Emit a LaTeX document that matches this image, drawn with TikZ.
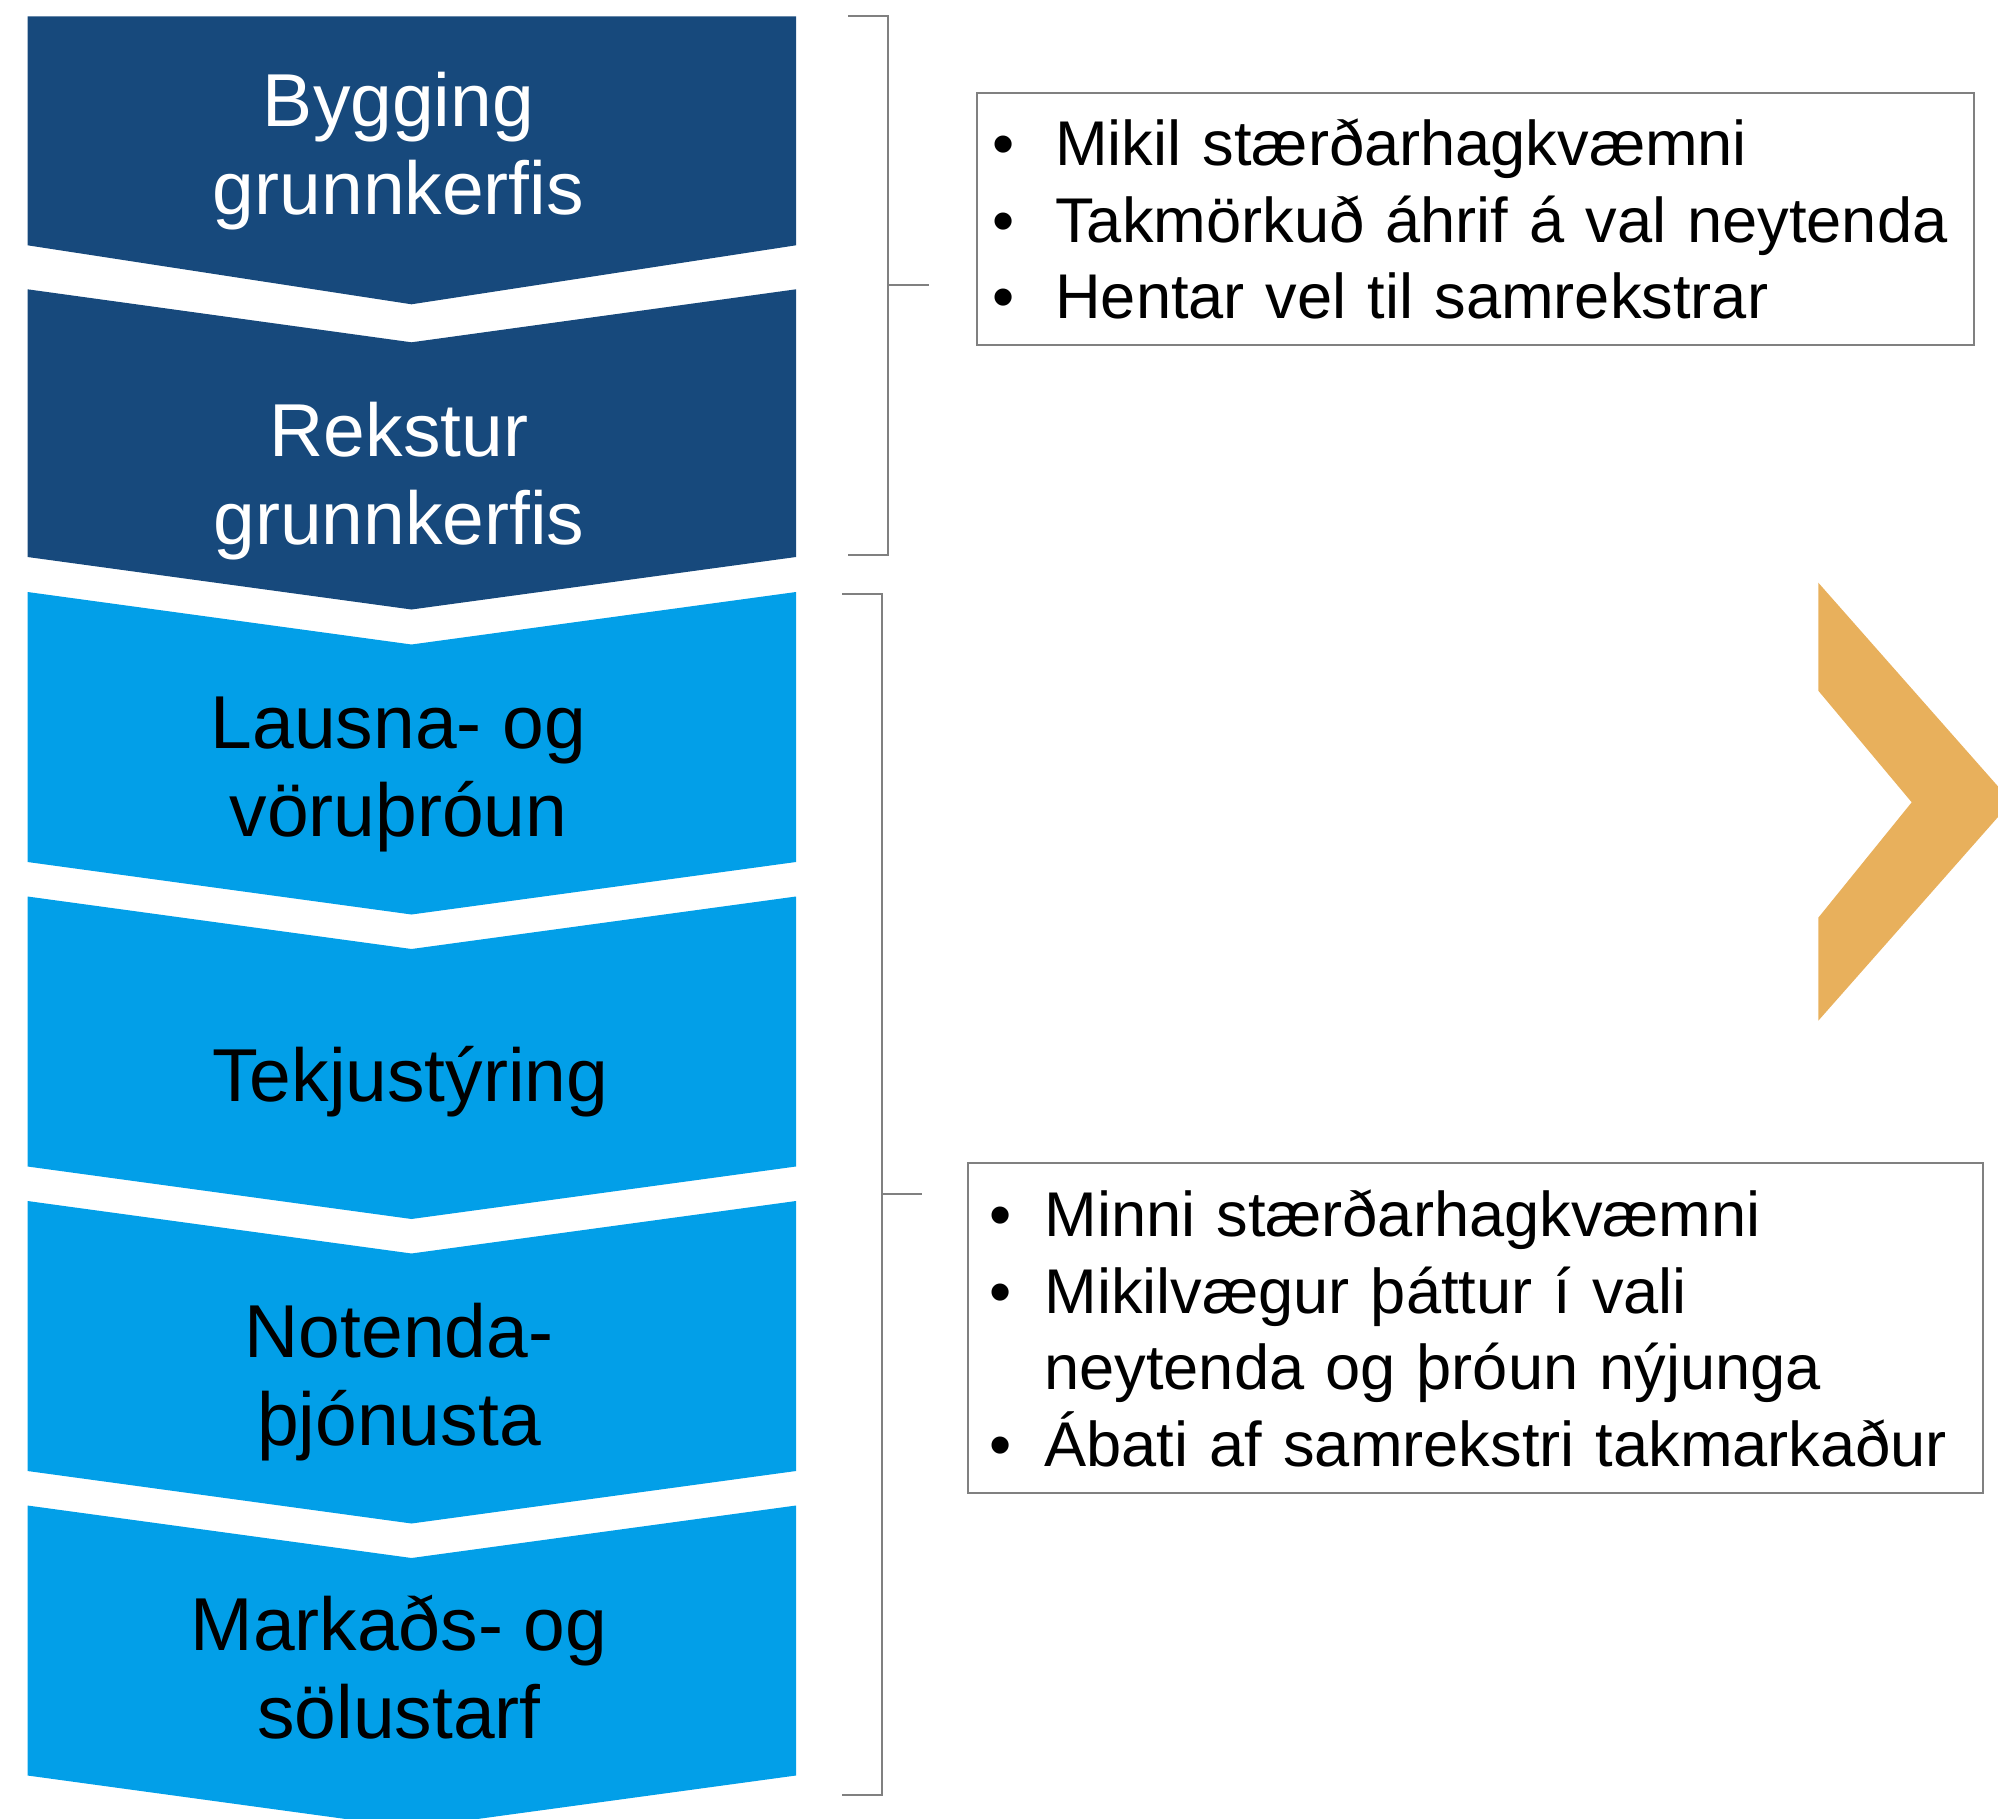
\documentclass[tikz,border=0pt]{standalone}
\usepackage{fontspec}
\setmainfont{Liberation Sans}
\usepackage{tikz}
\definecolor{darkblue}{RGB}{23,73,124}
\definecolor{lightblue}{RGB}{2,159,232}
\definecolor{chevorange}{RGB}{232,176,92}
\definecolor{linegray}{RGB}{128,128,128}
\newcommand{\blt}[1]{\makebox[#1][l]{•}}

\begin{document}
\begin{tikzpicture}[x=0.5pt,y=-0.5pt]
      \tikzstyle{stage} = [align=center, inner sep=0pt, font=\fontsize{37.5pt}{44pt}\selectfont]
      \tikzstyle{textbox} = [draw=linegray, line width=1pt, align=left, inner ysep=0pt, font=\fontsize{31.6pt}{38.25pt}\selectfont]
      \tikzstyle{bracket} = [draw=linegray, line width=1pt]
      \useasboundingbox (0,0) rectangle (1998,1819);
      \clip (0,0) rectangle (1998,1819);
      % value chain
      \fill[darkblue] (27.5,16.5) -- (796,16.5) -- (796,245.3) -- (411.5,304.3) -- (27.5,245.3) -- cycle;
      \fill[darkblue] (27.5,289.3) -- (411.5,342.3) -- (796,289.3) -- (796,557) -- (411.5,609.5) -- (27.5,557) -- cycle;
      \foreach \t in {592,896.5,1201,1505.5}
        \fill[lightblue] (27.5,\t) -- (411.5,\t+52.5) -- (796,\t) -- (796,\t+270) -- (411.5,\t+322.5) -- (27.5,\t+270) -- cycle;
      \path
      node[stage, text=white] (build) at (398.5,151) {Bygging\\grunnkerfis}
      node[stage, text=white] (operate) at (399,481) {Rekstur\\grunnkerfis}
      node[stage] (develop) at (398.5,774) {Lausna- og\\vöruþróun}
      node[stage] (revenue) at (410.3,1082) {Tekjustýring}
      node[stage] (service) at (399,1382) {Notenda-\\þjónusta}
      node[stage] (sales) at (399,1667) {Markaðs- og\\sölustarf};
      % brackets
      \draw[bracket] (848.3,16) -- (888.3,16) -- (888.3,555) -- (848.3,555);
      \draw[bracket] (888.3,285.5) -- (928.5,285.5);
      \draw[bracket] (842,594) -- (882,594) -- (882,1794.6) -- (842,1794.6);
      \draw[bracket] (882,1194) -- (922,1194);
      % text boxes
      \path
      node[textbox, minimum width=498.5pt, minimum height=126.1pt, inner xsep=8pt, text width=482.5pt] (infra) at (1475.2,219.1)
        {\blt{31.3pt}Mikil stærðarhagkvæmni\\ \blt{31.3pt}Takmörkuð áhrif á val neytenda\\ \blt{31.3pt}Hentar vel til samrekstrar}
      node[textbox, minimum width=507.5pt, minimum height=164.85pt, inner xsep=10.5pt, text width=486.5pt] (services) at (1475.5,1328.2)
        {\blt{27.7pt}Minni stærðarhagkvæmni\\ \blt{27.7pt}Mikilvægur þáttur í vali\\ \hspace*{27.7pt}neytenda og þróun nýjunga\\ \blt{27.7pt}Ábati af samrekstri takmarkaður};
      % arrow
      \fill[chevorange] (1818.3,582.7) -- (2011.5,801.7) -- (1818.3,1020.7) -- (1818.3,917.7) -- (1911.7,802.3) -- (1818.3,690.7) -- cycle;
\end{tikzpicture}
\end{document}
